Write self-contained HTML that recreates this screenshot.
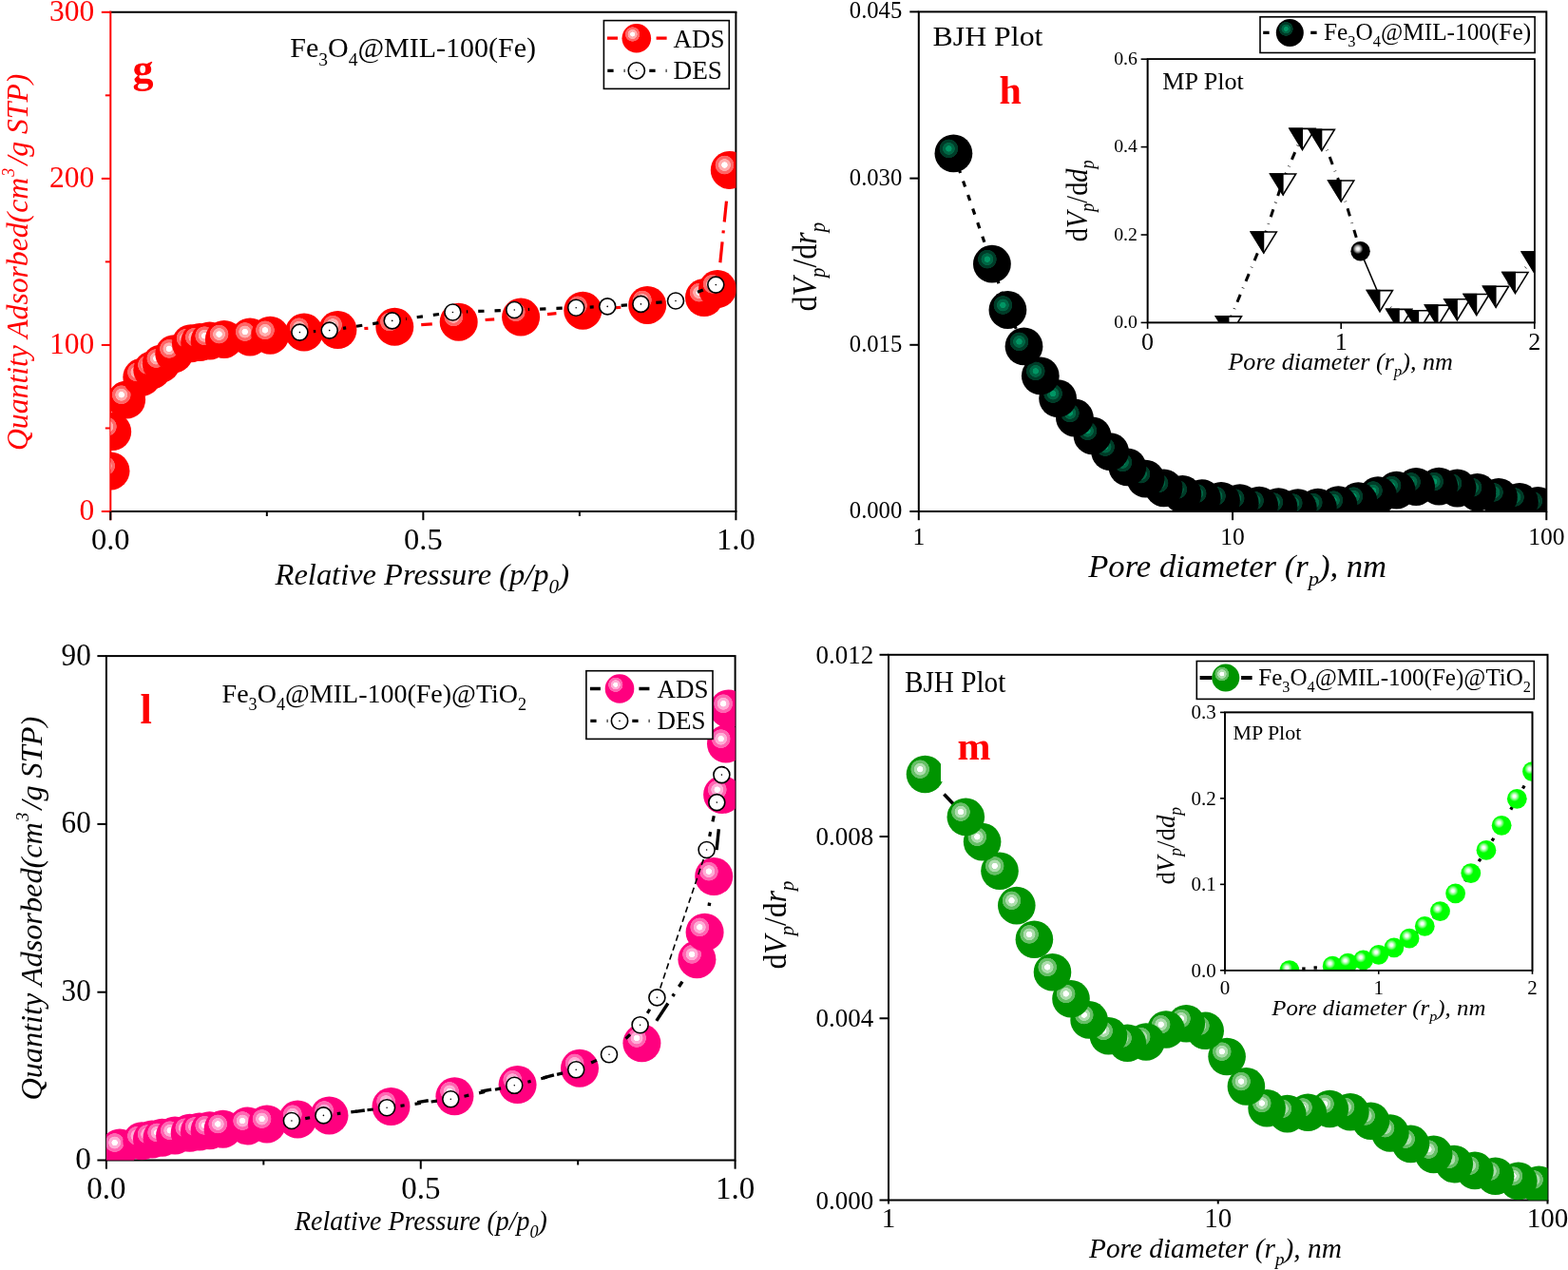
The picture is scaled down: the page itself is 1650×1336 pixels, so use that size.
<!DOCTYPE html>
<html lang="en"><head><meta charset="utf-8"><title>N2 adsorption-desorption isotherms and BJH / MP pore size plots</title>
<style>
html,body{margin:0;padding:0;background:#fff;}
body{width:1650px;height:1336px;overflow:hidden;}
svg{display:block;font-family:"Liberation Serif","Times New Roman",Times,serif;}
text{white-space:pre;}
</style></head>
<body>
<svg width="1650" height="1336" viewBox="0 0 1650 1336">
<defs>
<radialGradient id="gR" cx="0.3662" cy="0.3662" r="0.2525" fx="0.3662" fy="0.3662"><stop offset="0" stop-color="#ffffff"/><stop offset="0.290" stop-color="#ffffff"/><stop offset="0.340" stop-color="#ffadad"/><stop offset="0.610" stop-color="#ffadad"/><stop offset="0.660" stop-color="#ff6666"/><stop offset="0.950" stop-color="#ff6666"/><stop offset="1.000" stop-color="#ff0000"/></radialGradient>
<radialGradient id="gP" cx="0.3662" cy="0.3662" r="0.2525" fx="0.3662" fy="0.3662"><stop offset="0" stop-color="#ffffff"/><stop offset="0.290" stop-color="#ffffff"/><stop offset="0.340" stop-color="#ffadd6"/><stop offset="0.610" stop-color="#ffadd6"/><stop offset="0.660" stop-color="#ff66b2"/><stop offset="0.950" stop-color="#ff66b2"/><stop offset="1.000" stop-color="#ff007f"/></radialGradient>
<radialGradient id="gG" cx="0.3662" cy="0.3662" r="0.2525" fx="0.3662" fy="0.3662"><stop offset="0" stop-color="#ffffff"/><stop offset="0.290" stop-color="#ffffff"/><stop offset="0.340" stop-color="#adddad"/><stop offset="0.610" stop-color="#adddad"/><stop offset="0.660" stop-color="#66bf66"/><stop offset="0.950" stop-color="#66bf66"/><stop offset="1.000" stop-color="#009400"/></radialGradient>
<radialGradient id="gK" cx="0.3737" cy="0.3737" r="0.2525" fx="0.3737" fy="0.3737"><stop offset="0" stop-color="#009664"/><stop offset="0.290" stop-color="#009664"/><stop offset="0.340" stop-color="#006644"/><stop offset="0.610" stop-color="#006644"/><stop offset="0.660" stop-color="#003c28"/><stop offset="0.950" stop-color="#003c28"/><stop offset="1.000" stop-color="#000000"/></radialGradient>
<radialGradient id="gRl" cx="0.3627" cy="0.3627" r="0.2549" fx="0.3627" fy="0.3627"><stop offset="0" stop-color="#ffffff"/><stop offset="0.296" stop-color="#ffffff"/><stop offset="0.346" stop-color="#ffadad"/><stop offset="0.617" stop-color="#ffadad"/><stop offset="0.667" stop-color="#ff6666"/><stop offset="0.950" stop-color="#ff6666"/><stop offset="1.000" stop-color="#ff0000"/></radialGradient>
<radialGradient id="gPl" cx="0.3627" cy="0.3627" r="0.2549" fx="0.3627" fy="0.3627"><stop offset="0" stop-color="#ffffff"/><stop offset="0.296" stop-color="#ffffff"/><stop offset="0.346" stop-color="#ffadd6"/><stop offset="0.617" stop-color="#ffadd6"/><stop offset="0.667" stop-color="#ff66b2"/><stop offset="0.950" stop-color="#ff66b2"/><stop offset="1.000" stop-color="#ff007f"/></radialGradient>
<radialGradient id="gGl" cx="0.3621" cy="0.3621" r="0.2586" fx="0.3621" fy="0.3621"><stop offset="0" stop-color="#ffffff"/><stop offset="0.297" stop-color="#ffffff"/><stop offset="0.347" stop-color="#adddad"/><stop offset="0.617" stop-color="#adddad"/><stop offset="0.667" stop-color="#66bf66"/><stop offset="0.950" stop-color="#66bf66"/><stop offset="1.000" stop-color="#009400"/></radialGradient>
<radialGradient id="gKl" cx="0.3621" cy="0.3621" r="0.2586" fx="0.3621" fy="0.3621"><stop offset="0" stop-color="#009664"/><stop offset="0.297" stop-color="#009664"/><stop offset="0.347" stop-color="#006644"/><stop offset="0.617" stop-color="#006644"/><stop offset="0.667" stop-color="#003c28"/><stop offset="0.950" stop-color="#003c28"/><stop offset="1.000" stop-color="#000000"/></radialGradient>
<radialGradient id="gL" cx="0.37" cy="0.37" r="0.27" fx="0.37" fy="0.37"><stop offset="0" stop-color="#fff"/><stop offset="0.25" stop-color="#f4fff4"/><stop offset="0.6" stop-color="#8cff8c"/><stop offset="1" stop-color="#0f0"/></radialGradient>
<radialGradient id="gS" cx="0.37" cy="0.38" r="0.27" fx="0.37" fy="0.38"><stop offset="0" stop-color="#fff"/><stop offset="0.3" stop-color="#e8e8e8"/><stop offset="0.6" stop-color="#999"/><stop offset="1" stop-color="#000"/></radialGradient>
</defs>
<!-- chart g -->
<clipPath id="cg"><rect x="116.3" y="12.8" width="658.1" height="525.2"/></clipPath>
<line x1="115.3" y1="12.8" x2="775.4" y2="12.8" stroke="#000" stroke-width="2"/>
<line x1="774.4" y1="12.8" x2="774.4" y2="547.2" stroke="#000" stroke-width="2"/>
<line x1="115.3" y1="538" x2="775.4" y2="538" stroke="#000" stroke-width="2"/>
<line x1="116.3" y1="11.8" x2="116.3" y2="547.2" stroke="#f00" stroke-width="2"/>
<line x1="106.8" y1="538" x2="116.3" y2="538" stroke="#f00" stroke-width="2"/>
<line x1="106.8" y1="362.93" x2="116.3" y2="362.93" stroke="#f00" stroke-width="2"/>
<line x1="106.8" y1="187.87" x2="116.3" y2="187.87" stroke="#f00" stroke-width="2"/>
<line x1="106.8" y1="12.8" x2="116.3" y2="12.8" stroke="#f00" stroke-width="2"/>
<line x1="110.8" y1="450.47" x2="116.3" y2="450.47" stroke="#f00" stroke-width="2"/>
<line x1="110.8" y1="275.4" x2="116.3" y2="275.4" stroke="#f00" stroke-width="2"/>
<line x1="110.8" y1="100.33" x2="116.3" y2="100.33" stroke="#f00" stroke-width="2"/>
<line x1="116.3" y1="538" x2="116.3" y2="547.2" stroke="#000" stroke-width="2"/>
<line x1="445.35" y1="538" x2="445.35" y2="547.2" stroke="#000" stroke-width="2"/>
<line x1="280.82" y1="538" x2="280.82" y2="543" stroke="#000" stroke-width="2"/>
<line x1="609.88" y1="538" x2="609.88" y2="543" stroke="#000" stroke-width="2"/>
<text transform="translate(99.2 546.8) translate(-15.75 0)" font-size="31.5" fill="#f00"><tspan>0</tspan></text>
<text transform="translate(99.2 371.73) translate(-47.25 0)" font-size="31.5" fill="#f00"><tspan>100</tspan></text>
<text transform="translate(99.2 196.67) translate(-47.25 0)" font-size="31.5" fill="#f00"><tspan>200</tspan></text>
<text transform="translate(99.2 21.6) translate(-47.25 0)" font-size="31.5" fill="#f00"><tspan>300</tspan></text>
<text transform="translate(116.3 578.4) translate(-20.31 0)" font-size="32.5"><tspan>0.0</tspan></text>
<text transform="translate(445.35 578.4) translate(-20.31 0)" font-size="32.5"><tspan>0.5</tspan></text>
<text transform="translate(774.4 578.4) translate(-20.31 0)" font-size="32.5"><tspan>1.0</tspan></text>
<text transform="translate(289.6 614.8) translate(0 0) scale(1.0153 1)" font-size="32" font-style="italic"><tspan>Relative Pressure (p/p</tspan><tspan dy="9.28" font-size="20.8">0</tspan><tspan dy="-9.28">)</tspan></text>
<text transform="translate(29.2 474) rotate(-90) translate(0 0) scale(0.9904 1)" font-size="32" font-style="italic" fill="#f00"><tspan>Quantity Adsorbed(cm</tspan><tspan dx="1.28" dy="-13.76" font-size="17.92">3</tspan><tspan dx="3.2" dy="13.76">/g STP)</tspan></text>
<text transform="translate(305.3 59.8) translate(0 0)" font-size="30"><tspan>Fe</tspan><tspan dy="8.7" font-size="19.5">3</tspan><tspan dy="-8.7">O</tspan><tspan dy="8.7" font-size="19.5">4</tspan><tspan dy="-8.7">@MIL-100(Fe)</tspan></text>
<text transform="translate(139.5 86.5) translate(0 0)" font-size="44" font-weight="bold" fill="#f00"><tspan>g</tspan></text>
<g clip-path="url(#cg)">
<line x1="383.36" y1="345.51" x2="387.34" y2="345.29" stroke="#f00" stroke-width="3.2" stroke-dasharray="22 9 3 9"/>
<line x1="443.22" y1="341.69" x2="454.78" y2="340.81" stroke="#f00" stroke-width="3.2" stroke-dasharray="22 9 3 9"/>
<line x1="510.62" y1="336.52" x2="520.18" y2="335.78" stroke="#f00" stroke-width="3.2" stroke-dasharray="22 9 3 9"/>
<line x1="575.94" y1="330.65" x2="585.46" y2="329.65" stroke="#f00" stroke-width="3.2" stroke-dasharray="22 9 3 9"/>
<line x1="641.2" y1="324.32" x2="653.3" y2="323.28" stroke="#f00" stroke-width="3.2" stroke-dasharray="22 9 3 9"/>
<line x1="708.96" y1="317.23" x2="713.24" y2="316.67" stroke="#f00" stroke-width="3.2" stroke-dasharray="22 9 3 9"/>
<line x1="757.85" y1="276.25" x2="764.95" y2="206.75" stroke="#f00" stroke-width="3.2" stroke-dasharray="22 9 3 9"/>
<circle cx="116.5" cy="495.4" r="20" fill="url(#gR)"/>
<circle cx="118.2" cy="454.1" r="20" fill="url(#gR)"/>
<circle cx="133.1" cy="420.6" r="20" fill="url(#gR)"/>
<circle cx="149.3" cy="396.8" r="20" fill="url(#gR)"/>
<circle cx="160.3" cy="389.2" r="20" fill="url(#gR)"/>
<circle cx="169.7" cy="382.4" r="20" fill="url(#gR)"/>
<circle cx="183.3" cy="372.2" r="20" fill="url(#gR)"/>
<circle cx="200.9" cy="361.2" r="20" fill="url(#gR)"/>
<circle cx="210.2" cy="360" r="20" fill="url(#gR)"/>
<circle cx="220.6" cy="358.6" r="20" fill="url(#gR)"/>
<circle cx="235.9" cy="356.9" r="20" fill="url(#gR)"/>
<circle cx="263.1" cy="354.4" r="20" fill="url(#gR)"/>
<circle cx="284.3" cy="352.7" r="20" fill="url(#gR)"/>
<circle cx="320" cy="349.6" r="20" fill="url(#gR)"/>
<circle cx="355.4" cy="347" r="20" fill="url(#gR)"/>
<circle cx="415.3" cy="343.8" r="20" fill="url(#gR)"/>
<circle cx="482.7" cy="338.7" r="20" fill="url(#gR)"/>
<circle cx="548.1" cy="333.6" r="20" fill="url(#gR)"/>
<circle cx="613.3" cy="326.7" r="20" fill="url(#gR)"/>
<circle cx="681.2" cy="320.9" r="20" fill="url(#gR)"/>
<circle cx="741" cy="313" r="20" fill="url(#gR)"/>
<circle cx="755" cy="304.1" r="20" fill="url(#gR)"/>
<circle cx="767.8" cy="178.9" r="20" fill="url(#gR)"/>
<line x1="739.83" y1="304.98" x2="724.47" y2="311.12" stroke="#000" stroke-width="3.2" stroke-dasharray="6.3 11"/>
<line x1="696.56" y1="317.84" x2="688.84" y2="318.56" stroke="#000" stroke-width="3.2" stroke-dasharray="6.3 11"/>
<line x1="659.94" y1="320.93" x2="653.66" y2="321.37" stroke="#000" stroke-width="3.2" stroke-dasharray="6.3 11"/>
<line x1="624.71" y1="322.97" x2="620.69" y2="323.13" stroke="#000" stroke-width="3.2" stroke-dasharray="6.3 11"/>
<line x1="591.71" y1="324.21" x2="555.79" y2="325.49" stroke="#000" stroke-width="3.2" stroke-dasharray="6.3 11"/>
<line x1="526.81" y1="326.56" x2="490.89" y2="327.94" stroke="#000" stroke-width="3.2" stroke-dasharray="6.3 11"/>
<line x1="462.04" y1="330.51" x2="427.06" y2="335.39" stroke="#000" stroke-width="3.2" stroke-dasharray="6.3 11"/>
<line x1="398.37" y1="339.61" x2="361.03" y2="345.39" stroke="#000" stroke-width="3.2" stroke-dasharray="6.3 11"/>
<line x1="332.23" y1="348.52" x2="329.87" y2="348.68" stroke="#000" stroke-width="3.2" stroke-dasharray="6.3 11"/>
<circle cx="315.4" cy="349.6" r="8.5" fill="#fff" stroke="#000" stroke-width="1.6"/>
<circle cx="315.4" cy="349.6" r="0.8" fill="#000"/>
<circle cx="346.7" cy="347.6" r="8.5" fill="#fff" stroke="#000" stroke-width="1.6"/>
<circle cx="346.7" cy="347.6" r="0.8" fill="#000"/>
<circle cx="412.7" cy="337.4" r="8.5" fill="#fff" stroke="#000" stroke-width="1.6"/>
<circle cx="412.7" cy="337.4" r="0.8" fill="#000"/>
<circle cx="476.4" cy="328.5" r="8.5" fill="#fff" stroke="#000" stroke-width="1.6"/>
<circle cx="476.4" cy="328.5" r="0.8" fill="#000"/>
<circle cx="541.3" cy="326" r="8.5" fill="#fff" stroke="#000" stroke-width="1.6"/>
<circle cx="541.3" cy="326" r="0.8" fill="#000"/>
<circle cx="606.2" cy="323.7" r="8.5" fill="#fff" stroke="#000" stroke-width="1.6"/>
<circle cx="606.2" cy="323.7" r="0.8" fill="#000"/>
<circle cx="639.2" cy="322.4" r="8.5" fill="#fff" stroke="#000" stroke-width="1.6"/>
<circle cx="639.2" cy="322.4" r="0.8" fill="#000"/>
<circle cx="674.4" cy="319.9" r="8.5" fill="#fff" stroke="#000" stroke-width="1.6"/>
<circle cx="674.4" cy="319.9" r="0.8" fill="#000"/>
<circle cx="711" cy="316.5" r="8.5" fill="#fff" stroke="#000" stroke-width="1.6"/>
<circle cx="711" cy="316.5" r="0.8" fill="#000"/>
<circle cx="753.3" cy="299.6" r="8.5" fill="#fff" stroke="#000" stroke-width="1.6"/>
<circle cx="753.3" cy="299.6" r="0.8" fill="#000"/>
</g>
<rect x="635.4" y="21.6" width="131.9" height="71.8" fill="#fff" stroke="#000" stroke-width="1.6"/>
<line x1="639" y1="40.2" x2="701.6" y2="40.2" stroke="#f00" stroke-width="3.2" stroke-dasharray="11 40.6 11"/>
<circle cx="669.8" cy="40.2" r="15.3" fill="url(#gRl)"/>
<line x1="639.3" y1="74.3" x2="701.6" y2="74.3" stroke="#000" stroke-width="3.2" stroke-dasharray="6.3 11 1 25.7"/>
<circle cx="669.8" cy="74.3" r="8.6" fill="#fff" stroke="#000" stroke-width="1.6"/>
<circle cx="669.8" cy="74.3" r="0.8" fill="#000"/>
<text transform="translate(708.5 49.6) translate(0 0)" font-size="27"><tspan>ADS</tspan></text>
<text transform="translate(708.5 82.7) translate(0 0) scale(1.0097 1)" font-size="27"><tspan>DES</tspan></text>
<!-- chart h -->
<clipPath id="ch"><rect x="966.8" y="12.4" width="660.5" height="525.6"/></clipPath>
<rect x="966.8" y="12.4" width="660.5" height="525.6" fill="none" stroke="#000" stroke-width="2"/>
<line x1="957.3" y1="538" x2="966.8" y2="538" stroke="#000" stroke-width="2"/>
<text transform="translate(949.3 545) translate(-55.5 0) scale(1.0027 1)" font-size="24.6"><tspan>0.000</tspan></text>
<line x1="957.3" y1="362.8" x2="966.8" y2="362.8" stroke="#000" stroke-width="2"/>
<text transform="translate(949.3 369.8) translate(-55.5 0) scale(1.0027 1)" font-size="24.6"><tspan>0.015</tspan></text>
<line x1="957.3" y1="187.6" x2="966.8" y2="187.6" stroke="#000" stroke-width="2"/>
<text transform="translate(949.3 194.6) translate(-55.5 0) scale(1.0027 1)" font-size="24.6"><tspan>0.030</tspan></text>
<line x1="957.3" y1="12.4" x2="966.8" y2="12.4" stroke="#000" stroke-width="2"/>
<text transform="translate(949.3 19.4) translate(-55.5 0) scale(1.0027 1)" font-size="24.6"><tspan>0.045</tspan></text>
<line x1="966.8" y1="538" x2="966.8" y2="547.2" stroke="#000" stroke-width="2"/>
<text transform="translate(966.8 572.8) translate(-6.38 0)" font-size="25.5"><tspan>1</tspan></text>
<line x1="1297.05" y1="538" x2="1297.05" y2="547.2" stroke="#000" stroke-width="2"/>
<text transform="translate(1297.05 572.8) translate(-12.75 0)" font-size="25.5"><tspan>10</tspan></text>
<line x1="1627.3" y1="538" x2="1627.3" y2="547.2" stroke="#000" stroke-width="2"/>
<text transform="translate(1627.3 572.8) translate(-19.12 0)" font-size="25.5"><tspan>100</tspan></text>
<text transform="translate(1145.2 606.7) translate(0 0) scale(1.0341 1)" font-size="33.5" font-style="italic"><tspan>Pore diameter (r</tspan><tspan dy="9.71" font-size="21.78">p</tspan><tspan dy="-9.71">), nm</tspan></text>
<text transform="translate(859.3 327.5) rotate(-90) translate(0 0) scale(0.8955 1)" font-size="35.7" font-style="italic"><tspan font-style="normal">d</tspan><tspan>V</tspan><tspan dy="8.57" font-size="23.21">p</tspan><tspan dy="-8.57" font-style="normal">/</tspan><tspan font-style="normal">d</tspan><tspan>r</tspan><tspan dy="8.57" font-size="23.21">p</tspan></text>
<text transform="translate(981.5 47.6) translate(0 0) scale(1.0622 1)" font-size="30"><tspan>BJH Plot</tspan></text>
<text transform="translate(1051.5 109.4) translate(0 0)" font-size="42" font-weight="bold" fill="#f00"><tspan>h</tspan></text>
<g clip-path="url(#ch)">
<line x1="1003.4" y1="161.4" x2="1043.9" y2="277.7" stroke="#000" stroke-width="3.2" stroke-dasharray="6.4 9"/>
<line x1="1043.9" y1="277.7" x2="1060.4" y2="326" stroke="#000" stroke-width="3.2" stroke-dasharray="6.4 9"/>
<line x1="1060.4" y1="326" x2="1077.5" y2="364.4" stroke="#000" stroke-width="3.2" stroke-dasharray="6.4 9"/>
<circle cx="1618.3" cy="532" r="19.9" fill="url(#gK)"/>
<circle cx="1599" cy="528" r="19.9" fill="url(#gK)"/>
<circle cx="1577" cy="522.9" r="19.9" fill="url(#gK)"/>
<circle cx="1554.6" cy="517.8" r="19.9" fill="url(#gK)"/>
<circle cx="1533.5" cy="513.5" r="19.9" fill="url(#gK)"/>
<circle cx="1514.2" cy="511.6" r="19.9" fill="url(#gK)"/>
<circle cx="1490.1" cy="512" r="19.9" fill="url(#gK)"/>
<circle cx="1469.6" cy="515.6" r="19.9" fill="url(#gK)"/>
<circle cx="1450" cy="521.1" r="19.9" fill="url(#gK)"/>
<circle cx="1429.4" cy="527.2" r="19.9" fill="url(#gK)"/>
<circle cx="1408.4" cy="531.2" r="19.9" fill="url(#gK)"/>
<circle cx="1386.8" cy="533.6" r="19.9" fill="url(#gK)"/>
<circle cx="1365.8" cy="534.2" r="19.9" fill="url(#gK)"/>
<circle cx="1345.4" cy="533.2" r="19.9" fill="url(#gK)"/>
<circle cx="1325.1" cy="531.6" r="19.9" fill="url(#gK)"/>
<circle cx="1304.7" cy="529.2" r="19.9" fill="url(#gK)"/>
<circle cx="1285" cy="526.8" r="19.9" fill="url(#gK)"/>
<circle cx="1264.7" cy="524.1" r="19.9" fill="url(#gK)"/>
<circle cx="1244.3" cy="519.9" r="19.9" fill="url(#gK)"/>
<circle cx="1224.6" cy="513.3" r="19.9" fill="url(#gK)"/>
<circle cx="1205.5" cy="503.6" r="19.9" fill="url(#gK)"/>
<circle cx="1186.4" cy="491.4" r="19.9" fill="url(#gK)"/>
<circle cx="1168.1" cy="475.1" r="19.9" fill="url(#gK)"/>
<circle cx="1149.5" cy="458.3" r="19.9" fill="url(#gK)"/>
<circle cx="1130.9" cy="439.5" r="19.9" fill="url(#gK)"/>
<circle cx="1113.1" cy="419.1" r="19.9" fill="url(#gK)"/>
<circle cx="1094.8" cy="395.4" r="19.9" fill="url(#gK)"/>
<circle cx="1077.5" cy="364.4" r="19.9" fill="url(#gK)"/>
<circle cx="1060.4" cy="326" r="19.9" fill="url(#gK)"/>
<circle cx="1043.9" cy="277.7" r="19.9" fill="url(#gK)"/>
<circle cx="1003.4" cy="161.4" r="19.9" fill="url(#gK)"/>
</g>
<rect x="1326" y="17.8" width="289.1" height="37.7" fill="#fff" stroke="#000" stroke-width="1.6"/>
<line x1="1329.2" y1="34.4" x2="1385.6" y2="34.4" stroke="#000" stroke-width="3.4" stroke-dasharray="6.4 43.6 6.4"/>
<circle cx="1357.3" cy="34.4" r="14.5" fill="url(#gKl)"/>
<text transform="translate(1392.9 42) translate(0 0) scale(1.0124 1)" font-size="25"><tspan>Fe</tspan><tspan dy="7.25" font-size="16.25">3</tspan><tspan dy="-7.25">O</tspan><tspan dy="7.25" font-size="16.25">4</tspan><tspan dy="-7.25">@MIL-100(Fe)</tspan></text>
<clipPath id="chi"><rect x="1207.6" y="62.2" width="407.2" height="277.2"/></clipPath>
<rect x="1207.6" y="62.2" width="407.2" height="277.2" fill="#fff" stroke="#000" stroke-width="1.6"/>
<line x1="1200.6" y1="339.4" x2="1207.6" y2="339.4" stroke="#000" stroke-width="1.6"/>
<text transform="translate(1197 345.2) translate(-24.8 0) scale(1.0442 1)" font-size="19"><tspan>0.0</tspan></text>
<line x1="1200.6" y1="247" x2="1207.6" y2="247" stroke="#000" stroke-width="1.6"/>
<text transform="translate(1197 252.8) translate(-24.8 0) scale(1.0442 1)" font-size="19"><tspan>0.2</tspan></text>
<line x1="1200.6" y1="154.6" x2="1207.6" y2="154.6" stroke="#000" stroke-width="1.6"/>
<text transform="translate(1197 160.4) translate(-24.8 0) scale(1.0442 1)" font-size="19"><tspan>0.4</tspan></text>
<line x1="1200.6" y1="62.2" x2="1207.6" y2="62.2" stroke="#000" stroke-width="1.6"/>
<text transform="translate(1197 68) translate(-24.8 0) scale(1.0442 1)" font-size="19"><tspan>0.6</tspan></text>
<line x1="1207.6" y1="339.4" x2="1207.6" y2="345.9" stroke="#000" stroke-width="1.6"/>
<text transform="translate(1207.6 368.4) translate(-6.5 0)" font-size="26"><tspan>0</tspan></text>
<line x1="1411.2" y1="339.4" x2="1411.2" y2="345.9" stroke="#000" stroke-width="1.6"/>
<text transform="translate(1411.2 368.4) translate(-6.5 0)" font-size="26"><tspan>1</tspan></text>
<line x1="1614.8" y1="339.4" x2="1614.8" y2="345.9" stroke="#000" stroke-width="1.6"/>
<text transform="translate(1614.8 368.4) translate(-6.5 0)" font-size="26"><tspan>2</tspan></text>
<text transform="translate(1292.4 388.6) translate(0 0) scale(1.0442 1)" font-size="25" font-style="italic"><tspan>Pore diameter (r</tspan><tspan dy="7.25" font-size="16.25">p</tspan><tspan dy="-7.25">), nm</tspan></text>
<text transform="translate(1143.7 254.2) rotate(-90) translate(0 0) scale(0.8964 1)" font-size="31.5" font-style="italic"><tspan font-style="normal">d</tspan><tspan>V</tspan><tspan dy="7.56" font-size="20.48">p</tspan><tspan dy="-7.56" font-style="normal">/</tspan><tspan font-style="normal">d</tspan><tspan>d</tspan><tspan dy="7.56" font-size="20.48">p</tspan></text>
<text transform="translate(1223.3 94.2) translate(0 0) scale(1.0266 1)" font-size="25.5"><tspan>MP Plot</tspan></text>
<g clip-path="url(#chi)">
<line x1="1292.91" y1="339.5" x2="1329.76" y2="250.7" stroke="#000" stroke-width="3" stroke-dasharray="8.4 7.3 0.6 7.3"/>
<line x1="1329.76" y1="250.7" x2="1350.12" y2="189.6" stroke="#000" stroke-width="3" stroke-dasharray="8.4 7.3 0.6 7.3"/>
<line x1="1350.12" y1="189.6" x2="1370.48" y2="142" stroke="#000" stroke-width="3" stroke-dasharray="8.4 7.3 0.6 7.3"/>
<line x1="1370.48" y1="142" x2="1390.84" y2="143" stroke="#000" stroke-width="3" stroke-dasharray="8.4 7.3 0.6 7.3"/>
<line x1="1390.84" y1="143" x2="1411.2" y2="196.7" stroke="#000" stroke-width="3" stroke-dasharray="8.4 7.3 0.6 7.3"/>
<line x1="1411.2" y1="196.7" x2="1431.56" y2="264.2" stroke="#000" stroke-width="3" stroke-dasharray="8.4 7.3 0.6 7.3"/>
<line x1="1431.56" y1="264.2" x2="1451.92" y2="312.3" stroke="#000" stroke-width="1.6"/>
<line x1="1451.92" y1="312.3" x2="1472.28" y2="332" stroke="#000" stroke-width="3" stroke-dasharray="8.4 7.3 0.6 7.3"/>
<line x1="1472.28" y1="332" x2="1492.64" y2="333.4" stroke="#000" stroke-width="3" stroke-dasharray="8.4 7.3 0.6 7.3"/>
<line x1="1492.64" y1="333.4" x2="1513" y2="327.8" stroke="#000" stroke-width="3" stroke-dasharray="8.4 7.3 0.6 7.3"/>
<line x1="1513" y1="327.8" x2="1533.36" y2="321.4" stroke="#000" stroke-width="3" stroke-dasharray="8.4 7.3 0.6 7.3"/>
<line x1="1533.36" y1="321.4" x2="1553.72" y2="316.1" stroke="#000" stroke-width="3" stroke-dasharray="8.4 7.3 0.6 7.3"/>
<line x1="1553.72" y1="316.1" x2="1574.08" y2="307.9" stroke="#000" stroke-width="3" stroke-dasharray="8.4 7.3 0.6 7.3"/>
<line x1="1574.08" y1="307.9" x2="1594.44" y2="293.2" stroke="#000" stroke-width="3" stroke-dasharray="8.4 7.3 0.6 7.3"/>
<line x1="1594.44" y1="293.2" x2="1614.8" y2="271.8" stroke="#000" stroke-width="3" stroke-dasharray="8.4 7.3 0.6 7.3"/>
<path d="M1279.41 332.86L1306.41 332.86L1292.91 354.86Z" fill="#fff" stroke="#000" stroke-width="1.6" stroke-linejoin="miter"/>
<path d="M1278.41 332.06L1293.41 332.06L1293.41 356.06Z" fill="#000"/>
<path d="M1316.26 244.06L1343.26 244.06L1329.76 266.06Z" fill="#fff" stroke="#000" stroke-width="1.6" stroke-linejoin="miter"/>
<path d="M1315.26 243.26L1330.26 243.26L1330.26 267.26Z" fill="#000"/>
<path d="M1336.62 182.96L1363.62 182.96L1350.12 204.96Z" fill="#fff" stroke="#000" stroke-width="1.6" stroke-linejoin="miter"/>
<path d="M1335.62 182.16L1350.62 182.16L1350.62 206.16Z" fill="#000"/>
<path d="M1356.98 135.36L1383.98 135.36L1370.48 157.36Z" fill="#fff" stroke="#000" stroke-width="1.6" stroke-linejoin="miter"/>
<path d="M1355.98 134.56L1370.98 134.56L1370.98 158.56Z" fill="#000"/>
<path d="M1377.34 136.36L1404.34 136.36L1390.84 158.36Z" fill="#fff" stroke="#000" stroke-width="1.6" stroke-linejoin="miter"/>
<path d="M1376.34 135.56L1391.34 135.56L1391.34 159.56Z" fill="#000"/>
<path d="M1397.7 190.06L1424.7 190.06L1411.2 212.06Z" fill="#fff" stroke="#000" stroke-width="1.6" stroke-linejoin="miter"/>
<path d="M1396.7 189.26L1411.7 189.26L1411.7 213.26Z" fill="#000"/>
<circle cx="1431.56" cy="264.2" r="10.2" fill="url(#gS)"/>
<path d="M1438.42 305.66L1465.42 305.66L1451.92 327.66Z" fill="#fff" stroke="#000" stroke-width="1.6" stroke-linejoin="miter"/>
<path d="M1437.42 304.86L1452.42 304.86L1452.42 328.86Z" fill="#000"/>
<path d="M1458.78 325.36L1485.78 325.36L1472.28 347.36Z" fill="#fff" stroke="#000" stroke-width="1.6" stroke-linejoin="miter"/>
<path d="M1457.78 324.56L1472.78 324.56L1472.78 348.56Z" fill="#000"/>
<path d="M1479.14 326.76L1506.14 326.76L1492.64 348.76Z" fill="#fff" stroke="#000" stroke-width="1.6" stroke-linejoin="miter"/>
<path d="M1478.14 325.96L1493.14 325.96L1493.14 349.96Z" fill="#000"/>
<path d="M1499.5 321.16L1526.5 321.16L1513 343.16Z" fill="#fff" stroke="#000" stroke-width="1.6" stroke-linejoin="miter"/>
<path d="M1498.5 320.36L1513.5 320.36L1513.5 344.36Z" fill="#000"/>
<path d="M1519.86 314.76L1546.86 314.76L1533.36 336.76Z" fill="#fff" stroke="#000" stroke-width="1.6" stroke-linejoin="miter"/>
<path d="M1518.86 313.96L1533.86 313.96L1533.86 337.96Z" fill="#000"/>
<path d="M1540.22 309.46L1567.22 309.46L1553.72 331.46Z" fill="#fff" stroke="#000" stroke-width="1.6" stroke-linejoin="miter"/>
<path d="M1539.22 308.66L1554.22 308.66L1554.22 332.66Z" fill="#000"/>
<path d="M1560.58 301.26L1587.58 301.26L1574.08 323.26Z" fill="#fff" stroke="#000" stroke-width="1.6" stroke-linejoin="miter"/>
<path d="M1559.58 300.46L1574.58 300.46L1574.58 324.46Z" fill="#000"/>
<path d="M1580.94 286.56L1607.94 286.56L1594.44 308.56Z" fill="#fff" stroke="#000" stroke-width="1.6" stroke-linejoin="miter"/>
<path d="M1579.94 285.76L1594.94 285.76L1594.94 309.76Z" fill="#000"/>
<path d="M1601.3 265.16L1628.3 265.16L1614.8 287.16Z" fill="#fff" stroke="#000" stroke-width="1.6" stroke-linejoin="miter"/>
<path d="M1600.3 264.36L1615.3 264.36L1615.3 288.36Z" fill="#000"/>
</g>
<rect x="1207.6" y="62.2" width="407.2" height="277.2" fill="none" stroke="#000" stroke-width="1.6"/>
<!-- chart l -->
<clipPath id="cl"><rect x="111.9" y="690.1" width="661.7" height="530.4"/></clipPath>
<rect x="111.9" y="690.1" width="661.7" height="530.4" fill="none" stroke="#000" stroke-width="2"/>
<line x1="102.4" y1="1220.5" x2="111.9" y2="1220.5" stroke="#000" stroke-width="2"/>
<text transform="translate(95.8 1229.9) translate(-16.65 0)" font-size="33.3"><tspan>0</tspan></text>
<line x1="102.4" y1="1043.7" x2="111.9" y2="1043.7" stroke="#000" stroke-width="2"/>
<text transform="translate(95.8 1053.1) translate(-31.2 0) scale(0.9369 1)" font-size="33.3"><tspan>30</tspan></text>
<line x1="102.4" y1="866.9" x2="111.9" y2="866.9" stroke="#000" stroke-width="2"/>
<text transform="translate(95.8 876.3) translate(-31.2 0) scale(0.9369 1)" font-size="33.3"><tspan>60</tspan></text>
<line x1="102.4" y1="690.1" x2="111.9" y2="690.1" stroke="#000" stroke-width="2"/>
<text transform="translate(95.8 699.5) translate(-31.2 0) scale(0.9369 1)" font-size="33.3"><tspan>90</tspan></text>
<line x1="111.9" y1="1220.5" x2="111.9" y2="1229.7" stroke="#000" stroke-width="2"/>
<line x1="442.75" y1="1220.5" x2="442.75" y2="1229.7" stroke="#000" stroke-width="2"/>
<line x1="773.6" y1="1220.5" x2="773.6" y2="1229.7" stroke="#000" stroke-width="2"/>
<line x1="277.33" y1="1220.5" x2="277.33" y2="1225.5" stroke="#000" stroke-width="2"/>
<line x1="608.18" y1="1220.5" x2="608.18" y2="1225.5" stroke="#000" stroke-width="2"/>
<text transform="translate(111.9 1260.9) translate(-20.62 0)" font-size="33"><tspan>0.0</tspan></text>
<text transform="translate(442.75 1260.9) translate(-20.62 0)" font-size="33"><tspan>0.5</tspan></text>
<text transform="translate(773.6 1260.9) translate(-20.62 0)" font-size="33"><tspan>1.0</tspan></text>
<text transform="translate(310 1293.6) translate(0 0) scale(0.9798 1)" font-size="28.5" font-style="italic"><tspan>Relative Pressure (p/p</tspan><tspan dy="8.26" font-size="18.53">0</tspan><tspan dy="-8.26">)</tspan></text>
<text transform="translate(43.9 1157.6) rotate(-90) translate(0 0) scale(0.9936 1)" font-size="32.5" font-style="italic"><tspan>Quantity Adsorbed(cm</tspan><tspan dx="1.3" dy="-13.97" font-size="18.2">3</tspan><tspan dx="3.25" dy="13.97">/g STP)</tspan></text>
<text transform="translate(233.6 739.3) translate(0 0)" font-size="28"><tspan>Fe</tspan><tspan dy="8.12" font-size="18.2">3</tspan><tspan dy="-8.12">O</tspan><tspan dy="8.12" font-size="18.2">4</tspan><tspan dy="-8.12">@MIL-100(Fe)@TiO</tspan><tspan dy="8.12" font-size="18.2">2</tspan></text>
<text transform="translate(147.6 760.9) translate(0 0)" font-size="44.5" font-weight="bold" fill="#f00"><tspan>l</tspan></text>
<g clip-path="url(#cl)">
<line x1="374.21" y1="1169.39" x2="383.79" y2="1168.01" stroke="#000" stroke-width="3.4" stroke-dasharray="22 9 3 9"/>
<line x1="439.15" y1="1159.58" x2="450.75" y2="1157.72" stroke="#000" stroke-width="3.4" stroke-dasharray="22 9 3 9"/>
<line x1="505.94" y1="1148.23" x2="517.06" y2="1146.17" stroke="#000" stroke-width="3.4" stroke-dasharray="22 9 3 9"/>
<line x1="571.67" y1="1133.94" x2="582.93" y2="1130.96" stroke="#000" stroke-width="3.4" stroke-dasharray="22 9 3 9"/>
<line x1="635.95" y1="1113.28" x2="649.45" y2="1107.82" stroke="#000" stroke-width="3.4" stroke-dasharray="22 9 3 9"/>
<line x1="690.8" y1="1073.91" x2="718" y2="1032.59" stroke="#000" stroke-width="3.4" stroke-dasharray="22 9 3 9"/>
<line x1="746.12" y1="953.07" x2="746.68" y2="949.63" stroke="#000" stroke-width="3.4" stroke-dasharray="22 9 3 9"/>
<line x1="754.08" y1="894.15" x2="757.22" y2="863.85" stroke="#000" stroke-width="3.4" stroke-dasharray="22 9 3 9"/>
<circle cx="126" cy="1207.4" r="20" fill="url(#gP)"/>
<circle cx="149.3" cy="1200.2" r="20" fill="url(#gP)"/>
<circle cx="160" cy="1198.5" r="20" fill="url(#gP)"/>
<circle cx="170.5" cy="1196.8" r="20" fill="url(#gP)"/>
<circle cx="184.1" cy="1194.6" r="20" fill="url(#gP)"/>
<circle cx="199.7" cy="1191.7" r="20" fill="url(#gP)"/>
<circle cx="209.9" cy="1190.4" r="20" fill="url(#gP)"/>
<circle cx="220.6" cy="1189.2" r="20" fill="url(#gP)"/>
<circle cx="234.6" cy="1187.8" r="20" fill="url(#gP)"/>
<circle cx="260.5" cy="1184.4" r="20" fill="url(#gP)"/>
<circle cx="280.9" cy="1182.4" r="20" fill="url(#gP)"/>
<circle cx="313.2" cy="1177.6" r="20" fill="url(#gP)"/>
<circle cx="346.5" cy="1173.4" r="20" fill="url(#gP)"/>
<circle cx="411.5" cy="1164" r="20" fill="url(#gP)"/>
<circle cx="478.4" cy="1153.3" r="20" fill="url(#gP)"/>
<circle cx="544.6" cy="1141.1" r="20" fill="url(#gP)"/>
<circle cx="610" cy="1123.8" r="20" fill="url(#gP)"/>
<circle cx="675.4" cy="1097.3" r="20" fill="url(#gP)"/>
<circle cx="733.4" cy="1009.2" r="20" fill="url(#gP)"/>
<circle cx="741.6" cy="980.7" r="20" fill="url(#gP)"/>
<circle cx="751.2" cy="922" r="20" fill="url(#gP)"/>
<circle cx="760.1" cy="836" r="20" fill="url(#gP)"/>
<circle cx="764" cy="782.5" r="20" fill="url(#gP)"/>
<circle cx="766.5" cy="745.6" r="20" fill="url(#gP)"/>
<line x1="683.78" y1="1061.73" x2="681.22" y2="1065.87" stroke="#000" stroke-width="3.2" stroke-dasharray="6.3 11"/>
<line x1="663.11" y1="1088.21" x2="651.49" y2="1099.29" stroke="#000" stroke-width="3.2" stroke-dasharray="6.3 11"/>
<line x1="627.83" y1="1115.36" x2="619.37" y2="1119.24" stroke="#000" stroke-width="3.2" stroke-dasharray="6.3 11"/>
<line x1="592.15" y1="1128.87" x2="555.35" y2="1138.23" stroke="#000" stroke-width="3.2" stroke-dasharray="6.3 11"/>
<line x1="527.13" y1="1144.87" x2="488.47" y2="1153.23" stroke="#000" stroke-width="3.2" stroke-dasharray="6.3 11"/>
<line x1="459.93" y1="1158.2" x2="421.47" y2="1163.3" stroke="#000" stroke-width="3.2" stroke-dasharray="6.3 11"/>
<line x1="392.71" y1="1166.97" x2="354.79" y2="1171.63" stroke="#000" stroke-width="3.2" stroke-dasharray="6.3 11"/>
<line x1="326.1" y1="1175.79" x2="321.2" y2="1176.61" stroke="#000" stroke-width="3.2" stroke-dasharray="6.3 11"/>
<line x1="691.4" y1="1049.4" x2="743.6" y2="894" stroke="#000" stroke-width="1.6" stroke-dasharray="6.5 4"/>
<line x1="751.26" y1="858.28" x2="746.64" y2="879.82" stroke="#000" stroke-width="3.2" stroke-dasharray="6.3 11"/>
<circle cx="306.9" cy="1179" r="8.5" fill="#fff" stroke="#000" stroke-width="1.6"/>
<circle cx="306.9" cy="1179" r="0.8" fill="#000"/>
<circle cx="340.4" cy="1173.4" r="8.5" fill="#fff" stroke="#000" stroke-width="1.6"/>
<circle cx="340.4" cy="1173.4" r="0.8" fill="#000"/>
<circle cx="407.1" cy="1165.2" r="8.5" fill="#fff" stroke="#000" stroke-width="1.6"/>
<circle cx="407.1" cy="1165.2" r="0.8" fill="#000"/>
<circle cx="474.3" cy="1156.3" r="8.5" fill="#fff" stroke="#000" stroke-width="1.6"/>
<circle cx="474.3" cy="1156.3" r="0.8" fill="#000"/>
<circle cx="541.3" cy="1141.8" r="8.5" fill="#fff" stroke="#000" stroke-width="1.6"/>
<circle cx="541.3" cy="1141.8" r="0.8" fill="#000"/>
<circle cx="606.2" cy="1125.3" r="8.5" fill="#fff" stroke="#000" stroke-width="1.6"/>
<circle cx="606.2" cy="1125.3" r="0.8" fill="#000"/>
<circle cx="641" cy="1109.3" r="8.5" fill="#fff" stroke="#000" stroke-width="1.6"/>
<circle cx="641" cy="1109.3" r="0.8" fill="#000"/>
<circle cx="673.6" cy="1078.2" r="8.5" fill="#fff" stroke="#000" stroke-width="1.6"/>
<circle cx="673.6" cy="1078.2" r="0.8" fill="#000"/>
<circle cx="691.4" cy="1049.4" r="8.5" fill="#fff" stroke="#000" stroke-width="1.6"/>
<circle cx="691.4" cy="1049.4" r="0.8" fill="#000"/>
<circle cx="743.6" cy="894" r="8.5" fill="#fff" stroke="#000" stroke-width="1.6"/>
<circle cx="743.6" cy="894" r="0.8" fill="#000"/>
<circle cx="754.3" cy="844.1" r="8.5" fill="#fff" stroke="#000" stroke-width="1.6"/>
<circle cx="754.3" cy="844.1" r="0.8" fill="#000"/>
<circle cx="759.4" cy="815.1" r="8.5" fill="#fff" stroke="#000" stroke-width="1.6"/>
<circle cx="759.4" cy="815.1" r="0.8" fill="#000"/>
</g>
<rect x="616.9" y="705.7" width="133.1" height="71.7" fill="#fff" stroke="#000" stroke-width="1.6"/>
<line x1="620.9" y1="724.5" x2="683.4" y2="724.5" stroke="#000" stroke-width="3.6" stroke-dasharray="11 40.5 11"/>
<circle cx="652" cy="724.5" r="15.3" fill="url(#gPl)"/>
<line x1="621.3" y1="758.4" x2="684" y2="758.4" stroke="#000" stroke-width="3.2" stroke-dasharray="6.3 11 1 25.7"/>
<circle cx="652" cy="758.4" r="8.6" fill="#fff" stroke="#000" stroke-width="1.6"/>
<circle cx="652" cy="758.4" r="0.8" fill="#000"/>
<text transform="translate(691.4 733.7) translate(0 0)" font-size="27"><tspan>ADS</tspan></text>
<text transform="translate(691.4 767.3) translate(0 0)" font-size="27"><tspan>DES</tspan></text>
<!-- chart m -->
<clipPath id="cm"><rect x="935" y="688.8" width="693.5" height="573.7"/></clipPath>
<rect x="935" y="688.8" width="693.5" height="573.7" fill="none" stroke="#000" stroke-width="2"/>
<line x1="925.5" y1="1262.5" x2="935" y2="1262.5" stroke="#000" stroke-width="2"/>
<text transform="translate(919.2 1271.5) translate(-60.7 0) scale(0.9704 1)" font-size="27.8"><tspan>0.000</tspan></text>
<line x1="925.5" y1="1071.27" x2="935" y2="1071.27" stroke="#000" stroke-width="2"/>
<text transform="translate(919.2 1080.27) translate(-60.7 0) scale(0.9704 1)" font-size="27.8"><tspan>0.004</tspan></text>
<line x1="925.5" y1="880.03" x2="935" y2="880.03" stroke="#000" stroke-width="2"/>
<text transform="translate(919.2 889.03) translate(-60.7 0) scale(0.9704 1)" font-size="27.8"><tspan>0.008</tspan></text>
<line x1="925.5" y1="688.8" x2="935" y2="688.8" stroke="#000" stroke-width="2"/>
<text transform="translate(919.2 697.8) translate(-60.7 0) scale(0.9704 1)" font-size="27.8"><tspan>0.012</tspan></text>
<line x1="935" y1="1262.5" x2="935" y2="1266.5" stroke="#000" stroke-width="2"/>
<text transform="translate(935 1290.8) translate(-7.25 0)" font-size="29"><tspan>1</tspan></text>
<line x1="1281.75" y1="1262.5" x2="1281.75" y2="1266.5" stroke="#000" stroke-width="2"/>
<text transform="translate(1281.75 1290.8) translate(-14.5 0)" font-size="29"><tspan>10</tspan></text>
<line x1="1628.5" y1="1262.5" x2="1628.5" y2="1266.5" stroke="#000" stroke-width="2"/>
<text transform="translate(1628.5 1290.8) translate(-21.75 0)" font-size="29"><tspan>100</tspan></text>
<text transform="translate(1146 1322.5) translate(0 0) scale(0.9948 1)" font-size="29.5" font-style="italic"><tspan>Pore diameter (r</tspan><tspan dy="8.55" font-size="19.18">p</tspan><tspan dy="-8.55">), nm</tspan></text>
<text transform="translate(826.7 1019.5) rotate(-90) translate(0 0) scale(0.9377 1)" font-size="33.8" font-style="italic"><tspan font-style="normal">d</tspan><tspan>V</tspan><tspan dy="8.11" font-size="21.97">p</tspan><tspan dy="-8.11" font-style="normal">/</tspan><tspan font-style="normal">d</tspan><tspan>r</tspan><tspan dy="8.11" font-size="21.97">p</tspan></text>
<text transform="translate(951.9 728.3) translate(0 0) scale(0.9583 1)" font-size="30.5"><tspan>BJH Plot</tspan></text>
<g clip-path="url(#cm)">
<line x1="993.4" y1="835.6" x2="1016.3" y2="859.4" stroke="#000" stroke-width="3.6"/>
<circle cx="1619.4" cy="1246.2" r="19.8" fill="url(#gG)"/>
<circle cx="1597.8" cy="1242.4" r="19.8" fill="url(#gG)"/>
<circle cx="1573.6" cy="1237.3" r="19.8" fill="url(#gG)"/>
<circle cx="1552" cy="1231.4" r="19.8" fill="url(#gG)"/>
<circle cx="1530.3" cy="1224.6" r="19.8" fill="url(#gG)"/>
<circle cx="1508.7" cy="1214.4" r="19.8" fill="url(#gG)"/>
<circle cx="1484.5" cy="1203.4" r="19.8" fill="url(#gG)"/>
<circle cx="1462.9" cy="1192" r="19.8" fill="url(#gG)"/>
<circle cx="1442.5" cy="1179.2" r="19.8" fill="url(#gG)"/>
<circle cx="1420.9" cy="1169.8" r="19.8" fill="url(#gG)"/>
<circle cx="1399.3" cy="1166.5" r="19.8" fill="url(#gG)"/>
<circle cx="1376.3" cy="1170.3" r="19.8" fill="url(#gG)"/>
<circle cx="1354.7" cy="1171.6" r="19.8" fill="url(#gG)"/>
<circle cx="1333.1" cy="1165.8" r="19.8" fill="url(#gG)"/>
<circle cx="1311.4" cy="1142.9" r="19.8" fill="url(#gG)"/>
<circle cx="1291.1" cy="1111.5" r="19.8" fill="url(#gG)"/>
<circle cx="1268.2" cy="1084.3" r="19.8" fill="url(#gG)"/>
<circle cx="1248.3" cy="1076.7" r="19.8" fill="url(#gG)"/>
<circle cx="1227" cy="1083" r="19.8" fill="url(#gG)"/>
<circle cx="1206" cy="1096" r="19.8" fill="url(#gG)"/>
<circle cx="1186.4" cy="1097.3" r="19.8" fill="url(#gG)"/>
<circle cx="1166.5" cy="1089.7" r="19.8" fill="url(#gG)"/>
<circle cx="1146.1" cy="1072.9" r="19.8" fill="url(#gG)"/>
<circle cx="1127" cy="1050.7" r="19.8" fill="url(#gG)"/>
<circle cx="1107.5" cy="1022.7" r="19.8" fill="url(#gG)"/>
<circle cx="1088.4" cy="988.2" r="19.8" fill="url(#gG)"/>
<circle cx="1069.8" cy="952.6" r="19.8" fill="url(#gG)"/>
<circle cx="1052" cy="916.2" r="19.8" fill="url(#gG)"/>
<circle cx="1033.6" cy="885.6" r="19.8" fill="url(#gG)"/>
<circle cx="1016.3" cy="859.4" r="19.8" fill="url(#gG)"/>
<circle cx="973.5" cy="814.5" r="19.8" fill="url(#gG)"/>
</g>
<rect x="990" y="772" width="56" height="50.2" fill="#fff"/>
<text transform="translate(1007.4 799.1) translate(0 0)" font-size="42" font-weight="bold" fill="#f00"><tspan>m</tspan></text>
<rect x="1259.3" y="695.5" width="355" height="39.9" fill="#fff" stroke="#000" stroke-width="1.6"/>
<line x1="1262.6" y1="713" x2="1317.6" y2="713" stroke="#000" stroke-width="3.8" stroke-dasharray="13 30.5 11.5"/>
<circle cx="1289.8" cy="713" r="14.5" fill="url(#gGl)"/>
<text transform="translate(1324.2 720.7) translate(0 0) scale(1.0029 1)" font-size="25"><tspan>Fe</tspan><tspan dy="7.25" font-size="16.25">3</tspan><tspan dy="-7.25">O</tspan><tspan dy="7.25" font-size="16.25">4</tspan><tspan dy="-7.25">@MIL-100(Fe)@TiO</tspan><tspan dy="7.25" font-size="16.25">2</tspan></text>
<clipPath id="cmi"><rect x="1289" y="749.4" width="323.5" height="271.4"/></clipPath>
<rect x="1289" y="749.4" width="323.5" height="271.4" fill="#fff" stroke="#000" stroke-width="1.6"/>
<line x1="1284" y1="1020.8" x2="1289" y2="1020.8" stroke="#000" stroke-width="1.6"/>
<text transform="translate(1279.8 1027.6) translate(-26.25 0)" font-size="21"><tspan>0.0</tspan></text>
<line x1="1284" y1="930.33" x2="1289" y2="930.33" stroke="#000" stroke-width="1.6"/>
<text transform="translate(1279.8 937.13) translate(-26.25 0)" font-size="21"><tspan>0.1</tspan></text>
<line x1="1284" y1="839.87" x2="1289" y2="839.87" stroke="#000" stroke-width="1.6"/>
<text transform="translate(1279.8 846.67) translate(-26.25 0)" font-size="21"><tspan>0.2</tspan></text>
<line x1="1284" y1="749.4" x2="1289" y2="749.4" stroke="#000" stroke-width="1.6"/>
<text transform="translate(1279.8 756.2) translate(-26.25 0)" font-size="21"><tspan>0.3</tspan></text>
<line x1="1289" y1="1020.8" x2="1289" y2="1024.8" stroke="#000" stroke-width="1.6"/>
<text transform="translate(1289 1045.6) translate(-5.25 0)" font-size="21"><tspan>0</tspan></text>
<line x1="1450.75" y1="1020.8" x2="1450.75" y2="1024.8" stroke="#000" stroke-width="1.6"/>
<text transform="translate(1450.75 1045.6) translate(-5.25 0)" font-size="21"><tspan>1</tspan></text>
<line x1="1612.5" y1="1020.8" x2="1612.5" y2="1024.8" stroke="#000" stroke-width="1.6"/>
<text transform="translate(1612.5 1045.6) translate(-5.25 0)" font-size="21"><tspan>2</tspan></text>
<text transform="translate(1338.2 1067.8) translate(0 0) scale(1.0803 1)" font-size="23" font-style="italic"><tspan>Pore diameter (r</tspan><tspan dy="6.67" font-size="14.95">p</tspan><tspan dy="-6.67">), nm</tspan></text>
<text transform="translate(1236.4 930.6) rotate(-90) translate(0 0) scale(0.9501 1)" font-size="28.3" font-style="italic"><tspan font-style="normal">d</tspan><tspan>V</tspan><tspan dy="6.79" font-size="18.39">p</tspan><tspan dy="-6.79" font-style="normal">/</tspan><tspan font-style="normal">d</tspan><tspan>d</tspan><tspan dy="6.79" font-size="18.39">p</tspan></text>
<text transform="translate(1297.4 778.2) translate(0 0)" font-size="22"><tspan>MP Plot</tspan></text>
<g clip-path="url(#cmi)">
<path d="M1612.5 811.6L1596.33 840.3L1580.15 868.3L1563.97 894.4L1547.8 918.6L1531.62 939.8L1515.45 958.6L1499.28 974.4L1483.1 987.1L1466.92 996.8L1450.75 1004.4L1434.58 1009.8L1418.4 1013.2L1402.22 1016.2" fill="none" stroke="#000" stroke-width="3.3" stroke-dasharray="3.4 9.4" stroke-dashoffset="8.5"/>
<rect x="1370.2" y="1017.4" width="3.4" height="3.4"/><rect x="1382.5" y="1016.3" width="3.4" height="3.4"/>
<circle cx="1356.93" cy="1020.7" r="10.4" fill="url(#gL)"/>
<circle cx="1402.22" cy="1016.2" r="10.4" fill="url(#gL)"/>
<circle cx="1418.4" cy="1013.2" r="10.4" fill="url(#gL)"/>
<circle cx="1434.58" cy="1009.8" r="10.4" fill="url(#gL)"/>
<circle cx="1450.75" cy="1004.4" r="10.4" fill="url(#gL)"/>
<circle cx="1466.92" cy="996.8" r="10.4" fill="url(#gL)"/>
<circle cx="1483.1" cy="987.1" r="10.4" fill="url(#gL)"/>
<circle cx="1499.28" cy="974.4" r="10.4" fill="url(#gL)"/>
<circle cx="1515.45" cy="958.6" r="10.4" fill="url(#gL)"/>
<circle cx="1531.62" cy="939.8" r="10.4" fill="url(#gL)"/>
<circle cx="1547.8" cy="918.6" r="10.4" fill="url(#gL)"/>
<circle cx="1563.97" cy="894.4" r="10.4" fill="url(#gL)"/>
<circle cx="1580.15" cy="868.3" r="10.4" fill="url(#gL)"/>
<circle cx="1596.33" cy="840.3" r="10.4" fill="url(#gL)"/>
<circle cx="1612.5" cy="811.6" r="10.4" fill="url(#gL)"/>
</g>
<rect x="1289" y="749.4" width="323.5" height="271.4" fill="none" stroke="#000" stroke-width="1.6"/>
</svg>
</body></html>
